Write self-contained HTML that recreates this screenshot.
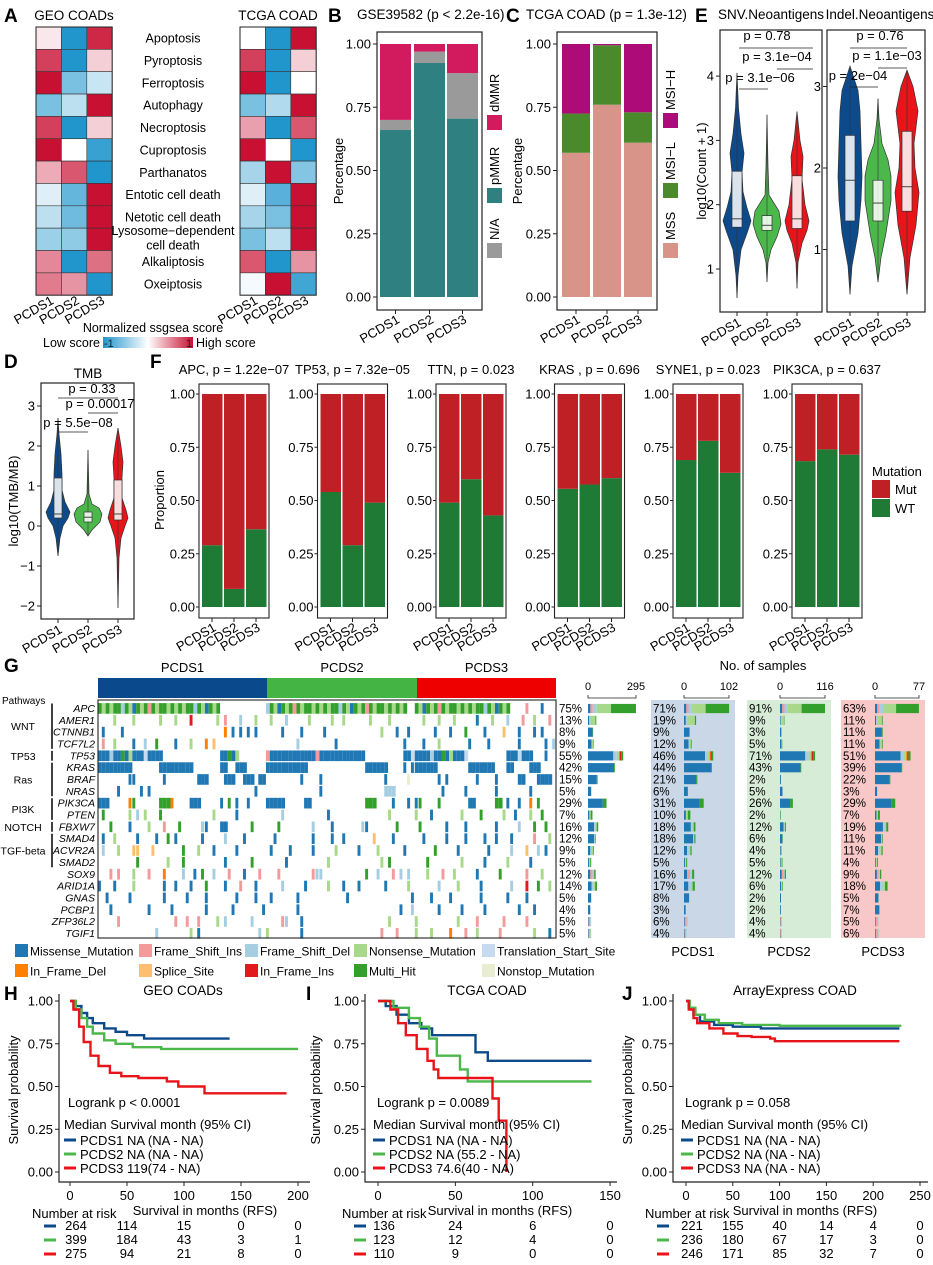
<!DOCTYPE html>
<html><head><meta charset="utf-8"><style>
html,body{margin:0;padding:0;background:#fff}
svg{display:block;font-family:"Liberation Sans",Arial,sans-serif}
</style></head><body>
<svg id="fig" width="933" height="1265" viewBox="0 0 933 1265" xmlns="http://www.w3.org/2000/svg">
<rect x="0" y="0" width="933" height="1265" fill="#fff"/>
<g font-weight="bold" font-size="19">
<text x="4" y="22">A</text>
<text x="328" y="22">B</text>
<text x="506" y="22">C</text>
<text x="695" y="22">E</text>
<text x="4" y="368">D</text>
<text x="150" y="368">F</text>
<text x="4" y="672">G</text>
<text x="4" y="1000">H</text>
<text x="306" y="1000">I</text>
<text x="622" y="1000">J</text>
</g>
</svg>
<script>
// ---------------- DATA ----------------
const groups = ['PCDS1','PCDS2','PCDS3'];
const pathwaysA = ['Apoptosis','Pyroptosis','Ferroptosis','Autophagy','Necroptosis','Cuproptosis','Parthanatos','Entotic cell death','Netotic cell death','Lysosome\u2212dependent|cell death','Alkaliptosis','Oxeiptosis'];
const geoScores = [[0.1,-1,0.9],[0.8,-1,0.2],[1,-0.6,-0.25],[-0.6,-0.3,1],[0.8,-1,0.2],[1,0,-0.9],[0.35,0.7,-1],[-0.15,-0.7,1],[-0.3,-0.65,1],[-0.45,-0.5,1],[0.5,-1,0.6],[0.55,0.45,-1]];
const tcgaScores = [[0,-1,1],[0.8,-1,0.2],[1,-1,0],[-0.6,-0.35,1],[0.4,-1,0.7],[1,0,-1],[-0.4,1,-0.55],[-0.15,-0.75,1],[-0.4,-0.6,1],[-0.6,-0.3,1],[0.7,-1,0.45],[-0.05,1,-0.85]];

const mmrCats = ['pMMR','N/A','dMMR'];
const mmrPMMR = [0.66,0.925,0.705];
const mmrNA = [0.04,0.045,0.18];
const mmrDMMR = [0.30,0.03,0.115];
const msiCats = ['MSS','MSI-L','MSI-H'];
const msiMSS = [0.57,0.76,0.61];
const msiL = [0.155,0.235,0.12];
const msiH = [0.275,0.005,0.27];
const propTicks = ['0.00','0.25','0.50','0.75','1.00'];

const snvProfiles = [
 [[0.55,0],[0.9,1],[1.3,4],[1.6,11],[1.75,14],[1.95,10],[2.2,6],[2.5,5],[2.8,7],[3.1,4],[3.5,1.5],[4.05,0]],
 [[0.8,0],[1.1,1],[1.3,4],[1.5,10],[1.7,14],[1.9,12],[2.0,8],[2.15,2],[2.6,1],[3.4,0]],
 [[0.7,0],[1.1,1],[1.4,5],[1.6,10],[1.75,12],[2.0,8],[2.4,5],[2.75,6],[3.0,3],[3.45,0]]];
const snvBox = [[1.65,1.78,2.52],[1.6,1.68,1.83],[1.63,1.78,2.45]];
const indelProfiles = [
 [[0.45,0],[0.8,2],[1.2,8],[1.6,11],[1.9,12],[2.3,11],[2.7,10],[2.95,8],[3.1,4],[3.25,0]],
 [[0.6,0],[0.9,3],[1.2,8],[1.6,13],[1.9,13],[2.1,10],[2.3,4],[2.6,1],[2.85,0]],
 [[0.45,0],[0.9,3],[1.3,9],[1.7,12],[2.0,8],[2.3,7],[2.7,11],[3.0,6],[3.2,0]]];
const indelBox = [[1.35,1.85,2.4],[1.35,1.57,1.85],[1.47,1.77,2.45]];
const tmbProfiles = [
 [[-0.75,0],[-0.3,2],[0,5],[0.2,10],[0.35,12],[0.6,7],[0.9,4],[1.3,4],[1.8,3],[2.3,1],[2.7,0]],
 [[-0.25,0],[-0.1,4],[0.1,12],[0.3,14],[0.45,11],[0.55,4],[0.8,1],[1.9,0]],
 [[-2.05,0],[-0.8,1],[-0.3,3],[0,7],[0.2,10],[0.4,8],[0.7,4],[1.2,4],[1.6,5],[2.0,3],[2.45,0]]];
const tmbBox = [[0.2,0.3,1.2],[0.1,0.22,0.35],[0.15,0.3,1.15]];

const fGenes = ['APC','TP53','TTN','KRAS ','SYNE1','PIK3CA'];
const fPvals = ['1.22e\u221207','7.32e\u221205','0.023','0.696','0.023','0.637'];
const fWT = [[0.29,0.085,0.365],[0.54,0.29,0.49],[0.49,0.60,0.43],[0.555,0.575,0.605],[0.69,0.78,0.63],[0.685,0.74,0.715]];

const oncoGenes = ['APC','AMER1','CTNNB1','TCF7L2','TP53','KRAS','BRAF','NRAS','PIK3CA','PTEN','FBXW7','SMAD4','ACVR2A','SMAD2','SOX9','ARID1A','GNAS','PCBP1','ZFP36L2','TGIF1'];
const oncoMut = [
 "0-31x 44-80x 83-107x 112p 116m",
 "4n 9n 16n 20n 24i 31n 33p 37f 41n 45n 49f 55n 61n 64n 71n 76n 85n 89n 93n 99m 103n 107f 111p 114n 118p",
 "1m 6m 33d 35m 37m 39m 41m 48m 53m 59m 74n 78m 81m 88m 92m 96g 101m 106s 110m 114m 116m",
 "1p 4n 9m 12f 15g 20m 24n 28d 30s 52f 62m 80m 85m 89n 97m 102m 110m 117m 119f",
 "0-16y 32-36y 44-69z 80-82y 83-96y 107-113y 117m",
 "0-8m 16-24m 32-33m 36-38m 44-54m 70-75m 80m 82m 83-88m 97-103m 107-108m 113-115m",
 "8m 9m 17m 26-28m 33-35m 38-40m 42-43m 53m 58m 75m 81o 89m 91m 99m 104m 110-111m 115-118m",
 "5m 11m 13m 41m 58m 75-77f 90m 96m 104m 113m",
 "0-2m 8d 9g 16-18g 19d 24-26m 32m 34g 36m 39m 44-48m 54-55m 70-72g 77m 81m 83m 84g 89g 97-98m 104-105g 107m 110m 113d 115g",
 "1g 8n 10f 12n 16g 30n 36m 48f 60m 76n 83n 87m 95n 100g 106n 109m 113n 116g",
 "3g 8m 13n 17p 21g 27f 28m 32-33m 40g 47g 56f 61m 69f 70m 78g 84g 91m 96m 104m 110f 114g 117g",
 "1m 4n 10m 15m 18g 20m 27m 33f 38m 46m 56m 61m 64m 72s 77m 85m 91m 96m 101m 104m 108m 114p 118n",
 "1f 5n 9s 10s 14s 22g 26n 30m 36m 45m 50m 56m 62n 68m 73n 80m 88g 94m 102m 108f 112s 115f 117m",
 "10g 18n 22g 33m 40g 49m 60n 74n 76g 86g 95n 101m 107n 113m",
 "3p 5p 9n 13p 17d 22f 25m 27g 30f 34p 38m 42p 47p 56p 57f 58f 70g 73f 77p 79f 81f 86n 90p 93n 99m 105g 112p 116n",
 "0m 4m 9n 17m 20m 24m 28g 33m 37p 41m 48f 54m 60n 64m 68m 75m 81n 89f 94n 100m 108f 112i 115g 118n",
 "2m 8m 17m 23m 28m 36m 41m 45m 52m 65m 82m 87m 92m 100m 107m 112m",
 "3m 13m 19m 28m 35m 43m 52m 79m 82f 89m 95m 101m 110m 114m",
 "5p 20p 23p 26p 31n 33f 40f 48p 49f 53m 76n 83n 94n 99p 106p 112p",
 "15f 24n 26m 42f 44n 53m 74p 78p 83n 87n 92d 96p 99n 105p 114n 118m"];
const pctAll = [75,13,8,9,55,42,15,5,29,7,16,12,9,5,12,14,5,4,5,5];
const pctP1 = [71,19,9,12,46,44,21,6,31,10,18,18,12,5,16,17,8,3,6,4];
const pctP2 = [91,9,3,5,71,43,2,5,26,2,12,6,4,5,12,6,2,2,4,4];
const pctP3 = [63,11,11,11,51,39,22,3,29,7,19,11,11,4,9,18,5,7,5,6];
const groupN = [393,144,127.5,122];
const axisMax = [295,102,116,77];
const oncoComp = ["m.05 p.05 f.08 n.3 g.52","m.15 f.15 n.6 g.1","m.9 g.1","m.6 f.1 n.2 g.1","m.72 f.1 n.06 d.03 i.03 g.06","m.97 g.03","m.92 g.08","m1","m.8 g.2","m.3 n.3 g.4","m.6 f.15 n.1 g.15","m.8 f.1 g.1","m.4 f.3 n.15 g.15","m.3 n.4 g.3","m.3 p.3 f.2 g.2","m.4 f.25 n.15 g.2","m1","m.9 f.1","m.2 p.5 f.3","m.2 p.4 n.2 f.2"];

const kmH = {blue:[[0,1],[5,.97],[10,.93],[15,.9],[20,.87],[30,.84],[40,.82],[50,.8],[65,.78],[140,.78]],
  green:[[0,1],[5,.95],[10,.9],[15,.85],[20,.81],[30,.77],[40,.75],[55,.73],[80,.72],[200,.72]],
  red:[[0,1],[3,.95],[8,.85],[12,.76],[18,.68],[25,.62],[35,.58],[45,.56],[60,.55],[85,.53],[95,.5],[118,.46],[190,.46]]};
const kmI = {blue:[[0,1],[5,.97],[12,.92],[20,.87],[28,.84],[35,.8],[63,.7],[71,.65],[138,.65]],
  green:[[0,1],[10,.96],[20,.9],[27,.85],[33,.78],[38,.68],[53,.6],[58,.53],[138,.53]],
  red:[[0,1],[8,.95],[13,.87],[18,.8],[25,.72],[32,.65],[36,.6],[39,.55],[74,.43],[78,.3],[83,0],[83,0]]};
const kmJ = {blue:[[0,1],[3,.96],[8,.92],[15,.88],[30,.86],[50,.85],[80,.84],[228,.84]],
  green:[[0,1],[4,.96],[10,.92],[20,.89],[35,.87],[60,.86],[100,.855],[230,.855]],
  red:[[0,1],[3,.95],[8,.9],[12,.87],[25,.84],[40,.81],[55,.795],[70,.79],[90,.78],[95,.765],[228,.765]]};
const riskH = [[264,114,15,0,0],[399,184,43,3,1],[275,94,21,8,0]];
const riskI = [[136,24,6,0],[123,12,4,0],[110,9,0,0]];
const riskJ = [[221,155,40,14,4,0],[236,180,67,17,3,0],[246,171,85,32,7,0]];
const medH = ['PCDS1 NA (NA - NA)','PCDS2 NA (NA - NA)','PCDS3 119(74 - NA)'];
const medI = ['PCDS1 NA (NA - NA)','PCDS2 NA (55.2 - NA)','PCDS3 74.6(40 - NA)'];
const medJ = ['PCDS1 NA (NA - NA)','PCDS2 NA (NA - NA)','PCDS3 NA (NA - NA)'];

// ---------------- HELPERS ----------------
const NS='http://www.w3.org/2000/svg';
const svg=document.getElementById('fig');
function mk(tag,at,par){const e=document.createElementNS(NS,tag);for(const k in at)e.setAttribute(k,at[k]);(par||svg).appendChild(e);return e;}
function tx(x,y,s,at,par){const e=mk('text',Object.assign({x:x,y:y},at||{}),par);e.textContent=s;return e;}
function grp(name){const g=mk('g',{});return g;}
const C3=['#0d4a8c','#4cb84c','#e8141a'];

// ---------------- PANEL A ----------------
function hcol(v){const b=[33,150,205],w=[255,255,255],r=[200,16,50];const t=Math.abs(v);const c=v<0?b:r;return 'rgb('+[0,1,2].map(i=>Math.round(w[i]+(c[i]-w[i])*t)).join(',')+')';}
function heat(x0,vals,title,name){
  const g=grp(name);
  const cw=25.4,ch=22.35,y0=27;
  vals.forEach((row,i)=>row.forEach((v,j)=>{
    const r=mk('rect',{x:x0+j*cw,y:y0+i*ch,width:cw,height:ch,fill:hcol(v),stroke:'#333','stroke-width':0.6},g);
    
    
  }));
  mk('rect',{x:x0,y:y0,width:cw*3,height:ch*12,fill:'none',stroke:'#222','stroke-width':1},g);
  let t=tx(x0+38,20,title,{'font-size':13.5,'text-anchor':'middle'},g);
  
  
  groups.forEach((s,j)=>{
    const cx=x0+j*cw+cw/2+6,cy=303;
    const l=tx(cx,cy,s,{'font-size':13,'text-anchor':'end',transform:'rotate(-30 '+cx+' '+cy+')'},g);
    
    
  });
}
heat(36,geoScores,'GEO COADs','heatmap-geo');
heat(240,tcgaScores,'TCGA COAD','heatmap-tcga');
(function(){const g=grp('heatmap-row-labels');
pathwaysA.forEach((p,i)=>{const cy=27+22.35*(i+0.5)+4.5;const parts=p.split('|');
  parts.forEach((pp,k)=>{const t=tx(173,parts.length>1?cy-9+k*14.5:cy,pp,{'font-size':12.5,'text-anchor':'middle'},g);
    
    });});
const d=mk('defs',{});const lg=mk('linearGradient',{id:'cb',x1:0,x2:1,y1:0,y2:0},d);
[[0,hcol(-1)],[0.5,'#fff'],[1,hcol(1)]].forEach(s=>mk('stop',{offset:s[0],'stop-color':s[1]},lg));
const cb=grp('colorbar');
let t=tx(153,332,'Normalized ssgsea score',{'font-size':12.5,'text-anchor':'middle'},cb);


const r=mk('rect',{x:103,y:337,width:90,height:11,fill:'url(#cb)'},cb);


t=tx(100,347,'Low score',{'font-size':12.5,'text-anchor':'end'},cb);


t=tx(196,347,'High score',{'font-size':12.5},cb);


t=tx(104,347,'-1',{'font-size':11,fill:'#222'},cb);


t=tx(186,347,'1',{'font-size':11,fill:'#222'},cb);


})();

// ---------------- PANELS B, C ----------------
function stackPanel(cfg){
  const g=grp(cfg.name);
  const y=v=>297-v*253;
  mk('rect',{x:cfg.bx,y:32,width:cfg.bw,height:278,fill:'none',stroke:'#222','stroke-width':1.2},g);
  let t=tx(cfg.tx,19,cfg.title,{'font-size':13.5},g);
  
  
  propTicks.forEach((lab,i)=>{const v=i/4;
    mk('line',{x1:cfg.bx-4,x2:cfg.bx,y1:y(v),y2:y(v),stroke:'#222'},g);
    const l=tx(cfg.bx-6,y(v)+4.5,lab,{'font-size':13,'text-anchor':'end'},g);
    
    });
  t=tx(0,0,'Percentage',{'font-size':13,'text-anchor':'middle',transform:'translate('+cfg.ylx+',171) rotate(-90)'},g);
  
  
  groups.forEach((s,j)=>{
    let acc=0;const x=cfg.bars[j];
    cfg.series.forEach((ser,k)=>{const v=ser[j];
      const r=mk('rect',{x:x,y:y(acc+v),width:cfg.barw,height:v*253,fill:cfg.colors[k]},g);
      
      
      acc+=v;});
    const cx=x+cfg.barw/2;
    mk('line',{x1:cx,x2:cx,y1:310,y2:314,stroke:'#222'},g);
    const l=tx(cx+5,322,s,{'font-size':13,'text-anchor':'end',transform:'rotate(-30 '+(cx+5)+' 322)'},g);
    
    
  });
  cfg.leg.forEach((L,k)=>{
    const r=mk('rect',{x:cfg.lx,y:L[1],width:15,height:15,fill:L[2]},g);
    
    
    const l=tx(0,0,L[0],{'font-size':13,transform:'translate('+(cfg.lx+12)+','+(L[1]-3)+') rotate(-90)'},g);
    
    
  });
}
stackPanel({name:'panel-b-mmr',bx:377,bw:105,tx:357,title:'GSE39582 (p < 2.2e-16)',ylx:343,bars:[380,414,447],barw:31,
  series:[mmrPMMR,mmrNA,mmrDMMR],cats:mmrCats,colors:['#2f8080','#9a9a9a','#d21b5e'],lx:487,
  leg:[['dMMR',115,'#d21b5e'],['pMMR',188,'#2f8080'],['N/A',243,'#9a9a9a']]});
stackPanel({name:'panel-c-msi',bx:557,bw:100,tx:526,title:'TCGA COAD (p = 1.3e-12)',ylx:522,bars:[562,593,624],barw:28,
  series:[msiMSS,msiL,msiH],cats:msiCats,colors:['#d9948a','#4a8a2c','#ad0c78'],lx:663,
  leg:[['MSI\u2212H',113,'#ad0c78'],['MSI\u2212L',183,'#4a8a2c'],['MSS',243,'#d9948a']]});

// ---------------- VIOLINS ----------------
function violin(g,cx,prof,box,yf,col,bw){
  let pts=[];prof.forEach(p=>pts.push([cx-p[1],yf(p[0])]));
  for(let i=prof.length-1;i>=0;i--)pts.push([cx+prof[i][1],yf(prof[i][0])]);
  const p=mk('path',{d:'M'+pts.map(q=>q[0].toFixed(1)+','+q[1].toFixed(1)).join('L')+'Z',fill:col,stroke:'#333','stroke-width':0.7},g);
  
  
  mk('line',{x1:cx,x2:cx,y1:yf(prof[0][0]),y2:yf(prof[prof.length-1][0]),stroke:'#333','stroke-width':0.6},g);
  const b=mk('rect',{x:cx-bw/2,y:yf(box[2]),width:bw,height:yf(box[0])-yf(box[2]),fill:'#fff','fill-opacity':0.85,stroke:'#333','stroke-width':0.7},g);
  
  
  mk('line',{x1:cx-bw/2,x2:cx+bw/2,y1:yf(box[1]),y2:yf(box[1]),stroke:'#333','stroke-width':0.9},g);
}
function bracket(g,x1,x2,y,lab,tx0,ty){
  mk('line',{x1:x1,x2:x2,y1:y,y2:y,stroke:'#222','stroke-width':0.8},g);
  const t=tx(tx0,ty,lab,{'font-size':13,'text-anchor':'middle'},g);
  
  
}
function violinPanel(cfg){
  const g=grp(cfg.name);
  mk('rect',{x:cfg.bx,y:cfg.by,width:cfg.bw,height:cfg.bh,fill:'none',stroke:'#222','stroke-width':1.2},g);
  cfg.ticks.forEach(tv=>{const yy=cfg.yf(tv);
    mk('line',{x1:cfg.bx-4,x2:cfg.bx,y1:yy,y2:yy,stroke:'#222'},g);
    const l=tx(cfg.bx-6,yy+4.5,String(tv).replace('-','\u2212'),{'font-size':13,'text-anchor':'end'},g);
    
    });
  groups.forEach((s,j)=>{const cx=cfg.cx[j];
    violin(g,cx,cfg.prof[j],cfg.box[j],cfg.yf,C3[j],cfg.boxw);
    mk('line',{x1:cx,x2:cx,y1:cfg.by+cfg.bh,y2:cfg.by+cfg.bh+4,stroke:'#222'},g);
    const yy=cfg.by+cfg.bh+13;
    const l=tx(cx+5,yy,s,{'font-size':13,'text-anchor':'end',transform:'rotate(-30 '+(cx+5)+' '+yy+')'},g);
    
    });
  cfg.br.forEach(b=>bracket(g,b[0],b[1],b[2],b[3],b[4],b[5]));
  if(cfg.ylab){const t=tx(0,0,cfg.ylab,{'font-size':13,'text-anchor':'middle',transform:'translate('+cfg.ylx+','+cfg.yly+') rotate(-90)'},g);
    
    }
  if(cfg.title){const t=tx(cfg.tx,cfg.ty,cfg.title,{'font-size':13.5,'text-anchor':'middle'},g);
    
    }
}
violinPanel({name:'panel-e-snv',bx:720,by:30,bw:102,bh:282,yf:v=>269-(v-1)*64.3,ticks:[1,2,3,4],cx:[737,767,797],prof:snvProfiles,box:snvBox,boxw:10,
  br:[[739,813,48,'p = 0.78',767,40],[777,813,69,'p = 3.1e\u221204',777,61],[739,768,89,'p = 3.1e\u221206',760,82]],
  ylab:'log10(Count + 1)',ylx:706,yly:171,title:'SNV.Neoantigens',tx:771,ty:19});
violinPanel({name:'panel-e-indel',bx:827,by:30,bw:98,bh:282,yf:v=>168-(v-2)*81.5,ticks:[1,2,3],cx:[850,878,907],prof:indelProfiles,box:indelBox,boxw:10,
  br:[[850,907,48,'p = 0.76',880,40],[878,907,68,'p = 1.1e\u221203',887,60],[850,878,87,'p = 2e\u221204',858,80]],
  title:'Indel.Neoantigens',tx:880,ty:19});
violinPanel({name:'panel-d-tmb',bx:41,by:383,bw:93,bh:236,yf:v=>526-v*40,ticks:[-2,-1,0,1,2,3],cx:[58,88,118],prof:tmbProfiles,box:tmbBox,boxw:8,
  br:[[58,118,398,'p = 0.33',92,393],[88,118,413,'p = 0.00017',100,408],[58,88,432,'p = 5.5e\u221208',78,427]],
  ylab:'log10(TMB/MB)',ylx:18,yly:501,title:'TMB',tx:88,ty:378});

// ---------------- PANEL F ----------------
(function(){
  const g=grp('panel-f-mutation-proportion');
  const y=v=>607-v*213;
  const lefts=[199,317.5,436,554.5,673,792];
  fGenes.forEach((gn,f)=>{
    const bx=lefts[f];
    mk('rect',{x:bx,y:384,width:70,height:234,fill:'none',stroke:'#222','stroke-width':1.1},g);
    const t=tx(bx+35,374,gn+', p = '+fPvals[f],{'font-size':13,'text-anchor':'middle'},g);
    
    
    propTicks.forEach((lab,i)=>{const v=i/4;
      mk('line',{x1:bx-3,x2:bx,y1:y(v),y2:y(v),stroke:'#222'},g);
      const l=tx(bx-4,y(v)+4.5,lab,{'font-size':13,'text-anchor':'end'},g);
      
      });
    groups.forEach((s,j)=>{
      const x=bx+3+j*22,wt=fWT[f][j];
      const r1=mk('rect',{x:x,y:y(wt),width:20.5,height:wt*213,fill:'#1e7a35'},g);
      
      
      const r2=mk('rect',{x:x,y:y(1),width:20.5,height:(1-wt)*213,fill:'#bf2025'},g);
      
      
      const cx=x+10;
      mk('line',{x1:cx,x2:cx,y1:618,y2:622,stroke:'#222'},g);
      const l=tx(cx+5,630,s,{'font-size':13,'text-anchor':'end',transform:'rotate(-30 '+(cx+5)+' 630)'},g);
      
      
    });
  });
  let t=tx(0,0,'Proportion',{'font-size':13,'text-anchor':'middle',transform:'translate(164,500) rotate(-90)'},g);
  
  
  t=tx(872,476,'Mutation',{'font-size':13},g);
  
  
  [['Mut','#bf2025',480],['WT','#1e7a35',499]].forEach(L=>{
    const r=mk('rect',{x:872,y:L[2],width:18,height:18,fill:L[1]},g);
    
    
    const l=tx(895,L[2]+14,L[0],{'font-size':13},g);
    
    });
})();

// ---------------- PANEL G ----------------
const mutColors={m:'#1f78b4',p:'#f49a9a',f:'#a6cee3',n:'#a8d98a',t:'#c6dbef',d:'#ff7f00',s:'#fdbf6f',i:'#e31a1c',g:'#33a02c',o:'#e8ecd0'};
const mixPat={x:'gngnggfgnmgngpgnggn',y:'mmmfmmgmnmmmtm',z:'mmmmmpmmmmmmm'};
(function(){
  const g=grp('panel-g-oncoplot');
  const x0=98,x1=556,nc=120,cw=(x1-x0)/nc,y0=702.5,rh=11.84;
  const hb=[[98,267,'#0a4a8c','PCDS1'],[267,417,'#44b544','PCDS2'],[417,556,'#ee0000','PCDS3']];
  hb.forEach(h=>{const r=mk('rect',{x:h[0],y:678,width:h[1]-h[0],height:20,fill:h[2]},g);
    
    
    const t=tx((h[0]+h[1])/2,672,h[3],{'font-size':13,'text-anchor':'middle'},g);
    
    });
  let t=tx(2,704,'Pathways',{'font-size':10},g);
  
  
  oncoMut.forEach((str,gi)=>{
    const yy=y0+gi*rh+0.6;
    str.split(' ').forEach(tok=>{
      const ty=tok.slice(-1),rng=tok.slice(0,-1).split('-').map(Number);
      const a=rng[0],b=rng.length>1?rng[1]:rng[0];
      for(let c=a;c<=b;c++){
        const code=mixPat[ty]?mixPat[ty][c%mixPat[ty].length]:ty;
        const r=mk('rect',{x:x0+c*cw,y:yy,width:cw-(a===b?0.9:0),height:rh-1.2,fill:mutColors[code]},g);
        
        
      }});
    const l=tx(95,y0+gi*rh+9.5,oncoGenes[gi],{'font-size':10.5,'font-style':'italic','text-anchor':'end'},g);
    
    
  });
  mk('rect',{x:x0,y:700,width:x1-x0,height:238,fill:'none',stroke:'#222','stroke-width':1.1},g);
  const pw=[['WNT',0,3],['TP53',4,4],['Ras',5,7],['PI3K',8,9],['NOTCH',10,10],['TGF-beta',11,13]];
  pw.forEach(p=>{const ya=y0+p[1]*rh+1,yb=y0+(p[2]+1)*rh-1;
    mk('line',{x1:52,x2:52,y1:ya,y2:yb,stroke:'#111','stroke-width':1.6},g);
    const l=tx(23,(ya+yb)/2+4,p[0],{'font-size':10.5,'text-anchor':'middle'},g);
    
    });
  // side bars
  const pcts=[pctAll,pctP1,pctP2,pctP3];
  const starts=[588,684,780,875],twid=[48,45,45,44],pctx=[559,653,749,843];
  const bgs=[null,'#c9d7e6','#d7ecd7','#f8c8c8'];
  const bgx=[null,651,747,841];
  t=tx(763,670,'No. of samples',{'font-size':13,'text-anchor':'middle'},g);
  
  
  pcts.forEach((arr,k)=>{
    if(bgs[k]){const r=mk('rect',{x:bgx[k],y:700,width:84,height:238,fill:bgs[k]},g);
      
      
      const l=tx(bgx[k]+42,956,groups[k-1],{'font-size':13,'text-anchor':'middle'},g);
      
      }
    const sc=twid[k]/axisMax[k];
    mk('path',{d:'M'+starts[k]+',695V698H'+(starts[k]+twid[k])+'V695',fill:'none',stroke:'#222','stroke-width':0.8},g);
    let l=tx(starts[k],690,'0',{'font-size':11,'text-anchor':'middle'},g);
    
    
    l=tx(starts[k]+twid[k],690,String(axisMax[k]),{'font-size':11,'text-anchor':'middle'},g);
    
    
    arr.forEach((p,gi)=>{
      const yy=y0+gi*rh;
      const lab=tx(pctx[k],yy+10,p+'%',{'font-size':11.5},g);
      
      
      const total=p/100*groupN[k]*sc;let xx=starts[k];
      oncoComp[gi].split(' ').forEach(c=>{const w=parseFloat(c.slice(1))*total;
        const r=mk('rect',{x:xx,y:yy+1.4,width:w,height:rh-2.6,fill:mutColors[c[0]]},g);
        
        
        xx+=w;});
    });
  });
  // legend
  const leg=[['m','Missense_Mutation',15,944],['p','Frame_Shift_Ins',139,944],['f','Frame_Shift_Del',245,944],['n','Nonsense_Mutation',354,944],['t','Translation_Start_Site',482,944],
             ['d','In_Frame_Del',15,964],['s','Splice_Site',139,964],['i','In_Frame_Ins',245,964],['g','Multi_Hit',354,964],['o','Nonstop_Mutation',482,964]];
  leg.forEach(L=>{const r=mk('rect',{x:L[2],y:L[3],width:13,height:13,fill:mutColors[L[0]]},g);
    
    
    const l=tx(L[2]+15,L[3]+11.5,L[1],{'font-size':12},g);
    
    });
})();

// ---------------- KM PANELS ----------------
function km(cfg){
  const g=grp(cfg.name);
  const X=t=>cfg.x0+t*cfg.sx, Y=s=>1172-s*171;
  mk('path',{d:'M'+cfg.ax+',994V1182H'+cfg.axEnd,fill:'none',stroke:'#222','stroke-width':1.2},g);
  propTicks.forEach((lab,i)=>{const v=i/4;
    mk('line',{x1:cfg.ax-4,x2:cfg.ax,y1:Y(v),y2:Y(v),stroke:'#222'},g);
    const l=tx(cfg.ax-6,Y(v)+4.5,lab,{'font-size':13,'text-anchor':'end'},g);
    
    });
  cfg.xt.forEach(tv=>{mk('line',{x1:X(tv),x2:X(tv),y1:1182,y2:1186,stroke:'#222'},g);
    const l=tx(X(tv),1200,String(tv),{'font-size':13,'text-anchor':'middle'},g);
    
    });
  let t=tx(0,0,'Survival probability',{'font-size':13,'text-anchor':'middle',transform:'translate('+cfg.ylx+',1090) rotate(-90)'},g);
  
  
  t=tx(cfg.xlx,1215,'Survival in months  (RFS)',{'font-size':13,'text-anchor':'middle'},g);
  
  
  t=tx(cfg.tcx,995,cfg.title,{'font-size':13.5,'text-anchor':'middle'},g);
  
  
  ['blue','green','red'].forEach((k,j)=>{const d=cfg.data[k];
    let p='M'+X(d[0][0])+','+Y(d[0][1]);
    for(let i=1;i<d.length;i++)p+='H'+X(d[i][0]).toFixed(1)+'V'+Y(d[i][1]).toFixed(1);
    const e=mk('path',{d:p,fill:'none',stroke:C3[j],'stroke-width':2.4},g);
    
    
  });
  t=tx(cfg.lx+4,1107,cfg.logrank,{'font-size':13},g);
  
  
  t=tx(cfg.lx,1129,'Median Survival month (95% CI)',{'font-size':13},g);
  
  
  cfg.med.forEach((m,j)=>{const yy=1144+j*14;
    mk('line',{x1:cfg.lx,x2:cfg.lx+12,y1:yy-4,y2:yy-4,stroke:C3[j],'stroke-width':3},g);
    const l=tx(cfg.lx+16,yy+1,m,{'font-size':13},g);
    
    });
  t=tx(cfg.nrx,1218,'Number at risk',{'font-size':13},g);
  
  
  cfg.risk.forEach((row,j)=>{const yy=1230+j*14;
    mk('line',{x1:cfg.nrx+12,x2:cfg.nrx+24,y1:yy-4,y2:yy-4,stroke:C3[j],'stroke-width':3},g);
    row.forEach((v,i)=>{const l=tx(i===0?X(cfg.xt[i])+6:X(cfg.xt[i]),yy,String(v),{'font-size':13,'text-anchor':'middle'},g);
      
      });
  });
}
km({name:'panel-h-geo-survival',data:kmH,x0:70,sx:1.14,ax:59,axEnd:310,xt:[0,50,100,150,200],ylx:18,xlx:205,title:'GEO COADs',tcx:183,lx:64,logrank:'Logrank p < 0.0001',med:medH,nrx:32,risk:riskH});
km({name:'panel-i-tcga-survival',data:kmI,x0:378,sx:1.547,ax:365,axEnd:617,xt:[0,50,100,150],ylx:320,xlx:500,title:'TCGA COAD',tcx:487,lx:373,logrank:'Logrank p = 0.0089',med:medI,nrx:342,risk:riskI});
km({name:'panel-j-arrayexpress-survival',data:kmJ,x0:686,sx:0.936,ax:673,axEnd:928,xt:[0,50,100,150,200,250],ylx:632,xlx:805,title:'ArrayExpress COAD',tcx:795,lx:681,logrank:'Logrank p = 0.058',med:medJ,nrx:645,risk:riskJ});
</script>
</body></html>
